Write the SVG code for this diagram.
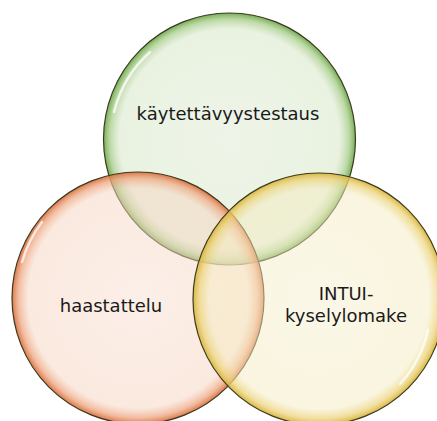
<svg xmlns="http://www.w3.org/2000/svg" width="437" height="421" viewBox="0 0 437 421">
<defs>
<radialGradient id="gG" cx="50%" cy="50%" r="50%">
<stop offset="0" stop-color="#d9e8cb" stop-opacity="0.45"/>
<stop offset="0.87" stop-color="#d4e5c4" stop-opacity="0.5"/>
<stop offset="0.95" stop-color="#a6cc88" stop-opacity="0.75"/>
<stop offset="1" stop-color="#6fa84c" stop-opacity="0.95"/>
</radialGradient>
<radialGradient id="gR" cx="50%" cy="50%" r="50%">
<stop offset="0" stop-color="#f8dccb" stop-opacity="0.45"/>
<stop offset="0.87" stop-color="#f6d4c0" stop-opacity="0.5"/>
<stop offset="0.95" stop-color="#eea680" stop-opacity="0.75"/>
<stop offset="1" stop-color="#d9703f" stop-opacity="0.95"/>
</radialGradient>
<radialGradient id="gY" cx="50%" cy="50%" r="50%">
<stop offset="0" stop-color="#f6eecb" stop-opacity="0.45"/>
<stop offset="0.87" stop-color="#f4ebc0" stop-opacity="0.5"/>
<stop offset="0.95" stop-color="#ecd47c" stop-opacity="0.75"/>
<stop offset="1" stop-color="#d8b43a" stop-opacity="0.95"/>
</radialGradient>
</defs>
<style>
.c{stroke:#3d3a22;stroke-width:1.2}
.hl{fill:none;stroke:#ffffff;stroke-width:2.5;stroke-opacity:0.75;stroke-linecap:round}
.t{font-family:"DejaVu Sans",Verdana,sans-serif;font-size:18px;fill:#1a1a1a;text-anchor:middle}
</style>
<rect width="437" height="421" fill="#ffffff"/>
<g id="node-kaytettavyystestaus">
<circle class="c" cx="229.5" cy="139" r="126" fill="url(#gG)"/>
<path class="hl" d="M 114 112 A 119 119 0 0 1 150 52"/>
<text class="t" x="228" y="120">käytettävyystestaus</text>
</g>
<g id="node-haastattelu">
<circle class="c" cx="138" cy="298" r="126" fill="url(#gR)"/>
<path class="hl" d="M 22 262 A 120 120 0 0 1 42 222"/>
<text class="t" x="111" y="312">haastattelu</text>
</g>
<g id="node-intui">
<circle class="c" cx="319" cy="299" r="126" fill="url(#gY)"/>
<path class="hl" d="M 428 330 A 118 118 0 0 1 400 384"/>
<text class="t" x="346" y="300">INTUI-</text>
<text class="t" x="346" y="322">kyselylomake</text>
</g>
<g id="connectors"/>
</svg>
